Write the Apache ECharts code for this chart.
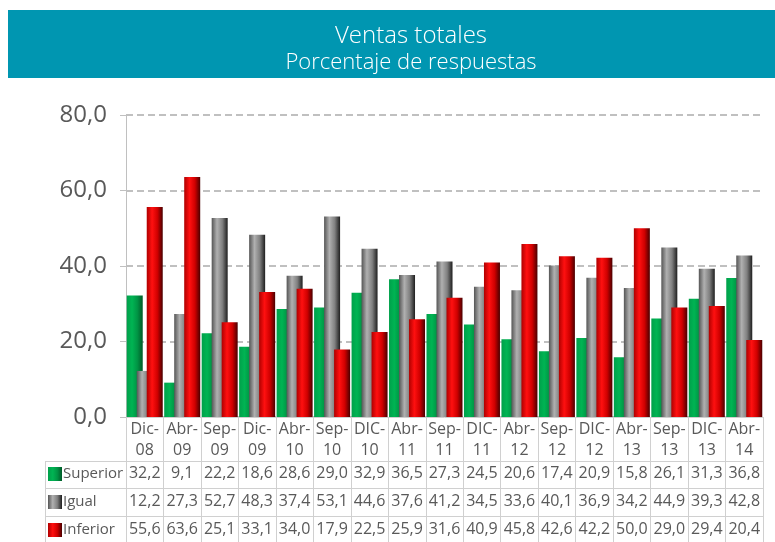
<!DOCTYPE html>
<html>
<head>
<meta charset="utf-8">
<script src="https://cdn.jsdelivr.net/npm/echarts@6/dist/echarts.min.js"></script>
<style>
  html, body { margin: 0; padding: 0; background: #fff; }
  #chart { width: 775px; height: 542px; }
</style>
</head>
<body>
<div id="chart"></div>
<script>
var categorias = ['Dic-\n08', 'Abr-\n09', 'Sep-\n09', 'Dic-\n09', 'Abr-\n10', 'Sep-\n10', 'DIC-\n10', 'Abr-\n11',
  'Sep-\n11', 'DIC-\n11', 'Abr-\n12', 'Sep-\n12', 'DIC-\n12', 'Abr-\n13', 'Sep-\n13', 'DIC-\n13', 'Abr-\n14']
var superior = [32.2, 9.1, 22.2, 18.6, 28.6, 29.0, 32.9, 36.5, 27.3, 24.5, 20.6, 17.4, 20.9, 15.8, 26.1, 31.3, 36.8]
var igual = [12.2, 27.3, 52.7, 48.3, 37.4, 53.1, 44.6, 37.6, 41.2, 34.5, 33.6, 40.1, 36.9, 34.2, 44.9, 39.3, 42.8]
var inferior = [55.6, 63.6, 25.1, 33.1, 34.0, 17.9, 22.5, 25.9, 31.6, 40.9, 45.8, 42.6, 42.2, 50.0, 29.0, 29.4, 20.4]
var yTicks = [0, 20, 40, 60, 80]

var fmt = function (v) { return v.toFixed(1).replace('.', ',') }
var fuente = 'Open Sans'
var gris = '#595959'
var linea = '#d0d0d0'

function degradado(stops) {
  return new echarts.graphic.LinearGradient(0, 0, 1, 0, stops.map(function (c, i) {
    return { offset: i / (stops.length - 1), color: c }
  }))
}
var verde = degradado(['#00a04a', '#00b453', '#009444', '#005a28'])
var plata = degradado(['#555555', '#b0b0b0', '#808080', '#1e1e1e'])
var rojo = degradado(['#b00000', '#ff1010', '#d00000', '#4a0000'])

// ejes extra para las filas de la tabla
function filaEje(valores, margen) {
  return {
    type: 'category',
    data: categorias,
    position: 'bottom',
    axisLine: { show: false },
    axisTick: { show: false },
    axisLabel: {
      interval: 0,
      margin: margen,
      verticalAlign: 'middle',
      color: gris,
      fontFamily: fuente,
      fontSize: 16,
      formatter: function (v, i) { return fmt(valores[i]) }
    }
  }
}

var chart = echarts.init(document.getElementById('chart'))
chart.setOption({
  animation: false,
  title: {
    text: 'Ventas totales',
    subtext: 'Porcentaje de respuestas',
    left: 406,
    top: 19,
    textAlign: 'center',
    itemGap: 4,
    textStyle: { color: '#fff', fontFamily: fuente, fontSize: 24, fontWeight: 'lighter' },
    subtextStyle: { color: '#fff', fontFamily: fuente, fontSize: 22, fontWeight: 'lighter' },
    z: 10
  },
  graphic: [
    { type: 'rect', shape: { x: 8, y: 10, width: 767, height: 68 }, style: { fill: '#0096b1' }, z: -1 },
    { type: 'line', shape: { x1: 45, y1: 461.5, x2: 763, y2: 461.5 }, style: { stroke: linea, lineWidth: 1 } },
    { type: 'line', shape: { x1: 45, y1: 488.5, x2: 763, y2: 488.5 }, style: { stroke: linea, lineWidth: 1 } },
    { type: 'line', shape: { x1: 45, y1: 516.5, x2: 763, y2: 516.5 }, style: { stroke: linea, lineWidth: 1 } },
    { type: 'line', shape: { x1: 45.5, y1: 461, x2: 45.5, y2: 542 }, style: { stroke: linea, lineWidth: 1 } }
  ],
  legend: {
    orient: 'vertical',
    left: 48,
    top: 466,
    padding: 0,
    itemWidth: 14,
    itemHeight: 14,
    itemGap: 12,
    icon: 'rect',
    textStyle: { color: gris, fontFamily: fuente, fontSize: 15, lineHeight: 16, padding: [0, 0, 0, -4] }
  },
  grid: { left: 126, right: 12, top: 115, bottom: 125 },
  xAxis: [
    {
      type: 'category',
      data: categorias,
      axisLine: { show: true, lineStyle: { color: linea } },
      axisTick: { show: true, length: 125, lineStyle: { color: linea } },
      axisLabel: {
        interval: 0,
        margin: 23,
        verticalAlign: 'middle',
        color: gris,
        fontFamily: fuente,
        fontSize: 16,
        lineHeight: 21
      }
    },
    filaEje(superior, 56),
    filaEje(igual, 84),
    filaEje(inferior, 112)
  ],
  yAxis: {
    type: 'value',
    min: yTicks[0],
    max: yTicks[yTicks.length - 1],
    interval: 20,
    axisLine: { show: true, lineStyle: { color: '#c0c0c0' } },
    axisTick: { show: true, length: 6, lineStyle: { color: '#c0c0c0' } },
    axisLabel: {
      margin: 19,
      color: gris,
      fontFamily: fuente,
      fontSize: 24,
      formatter: function (v) { return fmt(v) }
    },
    splitLine: { lineStyle: { color: '#c0c0c0', type: [7, 4], width: 2 } }
  },
  series: [
    { name: 'Superior', type: 'bar', data: superior, barWidth: 16, barGap: '-37.5%', itemStyle: { color: verde } },
    { name: 'Igual', type: 'bar', data: igual, barWidth: 16, barGap: '-37.5%', itemStyle: { color: plata } },
    { name: 'Inferior', type: 'bar', data: inferior, barWidth: 16, barGap: '-37.5%', itemStyle: { color: rojo } }
  ]
})
</script>
</body>
</html>
